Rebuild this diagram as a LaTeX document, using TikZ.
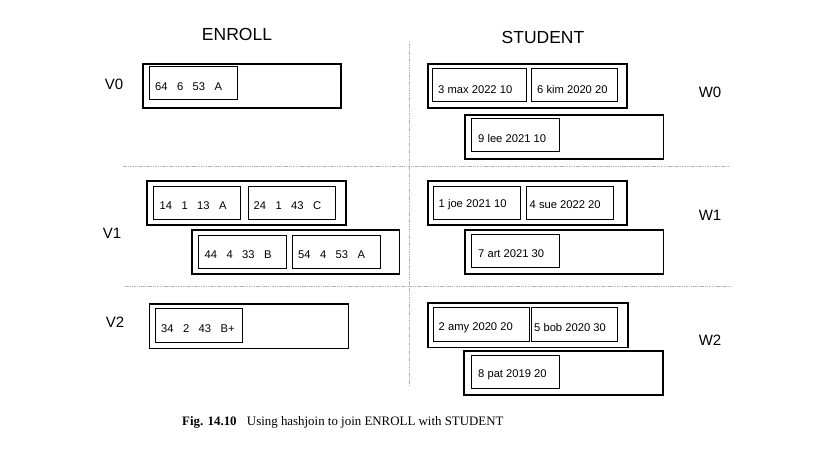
\documentclass[tikz,border=0pt]{standalone}
\usepackage{fontspec}
\setmainfont{Liberation Serif}
\setsansfont{Liberation Sans}
\begin{document}
\begin{tikzpicture}[x=1pt,y=-1pt,
  outbox/.style={draw, line width=1.8pt, minimum width=#1, minimum height=44pt, anchor=north west, inner sep=0pt},
  inbox/.style={draw, line width=1pt, anchor=north west, inner sep=0pt, minimum height=33pt, minimum width=#1},
  rec/.style={font=\sffamily\fontsize{11.2}{13}\selectfont, anchor=west, inner sep=0pt},
  head/.style={font=\sffamily\fontsize{17.5}{20}\selectfont, inner sep=0pt},
  lab/.style={font=\sffamily\fontsize{15}{18}\selectfont, inner sep=0pt},
  sep/.style={draw=gray!60, line width=0.6pt, dash pattern=on 1.5pt off 0.8pt}]
\newcommand\gp{\hspace{0.84em}}
\useasboundingbox (0,0) rectangle (838,462);
% headers
\node[head] (hE) at (237,34) {ENROLL};
\node[head] (hS) at (543,37) {STUDENT};
% separators
\coordinate (h1a) at (123,166); \coordinate (h1b) at (730,166);
\coordinate (h2a) at (125,286); \coordinate (h2b) at (730,286);
\coordinate (va) at (409.5,42); \coordinate (vb) at (409.5,385);
\draw[sep] (h1a) -- (h1b);
\draw[sep] (h2a) -- (h2b);
\draw[sep] (va) -- (vb);
% labels
\node[lab] (V0) at (114,84) {V0};
\node[lab] (V1) at (112,233) {V1};
\node[lab] (V2) at (115,322) {V2};
\node[lab] (W0) at (710,92) {W0};
\node[lab] (W1) at (710,215) {W1};
\node[lab] (W2) at (710,340) {W2};
% ENROLL V0
\node[outbox=198pt] (ev0) at (142,63.5) {};
\node[inbox=88pt] (e64) at (148.5,66) {};
\node[rec] (t64) at ([xshift=6.5pt,yshift=-4pt]e64.west) {64\gp 6\gp 53\gp A};
% ENROLL V1
\node[outbox=199pt] (ev1a) at (146,180) {};
\node[inbox=87pt] (e14) at (152.5,186.5) {};
\node[rec] (t14) at ([xshift=7pt,yshift=-2.5pt]e14.west) {14\gp 1\gp 13\gp A};
\node[inbox=87.5pt] (e24) at (247.5,186.5) {};
\node[rec] (t24) at ([xshift=6pt,yshift=-2.5pt]e24.west) {24\gp 1\gp 43\gp C};
\node[outbox=207.5pt] (ev1b) at (191,229.5) {};
\node[inbox=88.5pt] (e44) at (197.5,235) {};
\node[rec] (t44) at ([xshift=7pt,yshift=-3pt]e44.west) {44\gp 4\gp 33\gp B};
\node[inbox=88pt] (e54) at (292,235) {};
\node[rec] (t54) at ([xshift=6pt,yshift=-3pt]e54.west) {54\gp 4\gp 53\gp A};
% ENROLL V2
\node[outbox=199pt] (ev2) at (148.5,303.5) {};
\node[inbox=87.5pt] (e34) at (154.5,308.5) {};
\node[rec] (t34) at ([xshift=6.5pt,yshift=-3pt]e34.west) {34\gp 2\gp 43\gp B+};
% STUDENT W0
\node[outbox=199pt] (sw0a) at (427,63) {};
\node[inbox=94pt] (s3) at (432,68.5) {};
\node[rec] (t3) at ([xshift=6pt,yshift=-4pt]s3.west) {3 max 2022 10};
\node[inbox=86pt] (s6) at (531,68.5) {};
\node[rec] (t6) at ([xshift=6pt,yshift=-4pt]s6.west) {6 kim 2020 20};
\node[outbox=198.5pt] (sw0b) at (464,114.5) {};
\node[inbox=88pt] (s9) at (471,118.5) {};
\node[rec] (t9) at ([xshift=7pt,yshift=-3pt]s9.west) {9 lee 2021 10};
% STUDENT W1
\node[outbox=199pt] (sw1a) at (427,180.5) {};
\node[inbox=87.5pt] (s1) at (432.5,186) {};
\node[rec] (t1) at ([xshift=6pt,yshift=-2pt]s1.west) {1 joe 2021 10};
\node[inbox=87.5pt] (s4) at (525.5,186) {};
\node[rec] (t4) at ([xshift=4pt,yshift=-2pt]s4.west) {4 sue 2022 20};
\node[outbox=198.5pt] (sw1b) at (464,229.5) {};
\node[inbox=88pt] (s7) at (471,234) {};
\node[rec] (t7) at ([xshift=7pt,yshift=-3pt]s7.west) {7 art 2021 30};
% STUDENT W2
\node[outbox=200pt] (sw2a) at (427,302.5) {};
\node[inbox=96.5pt] (s2) at (432.5,307.5) {};
\node[rec] (t2) at ([xshift=6pt,yshift=-3pt]s2.west) {2 amy 2020 20};
\node[inbox=85.5pt] (s5) at (531,307.5) {};
\node[rec] (t5) at ([xshift=3pt,yshift=-3pt]s5.west) {5 bob 2020 30};
\node[outbox=199pt] (sw2b) at (463,350) {};
\node[inbox=88pt] (s8) at (471,354.5) {};
\node[rec] (t8) at ([xshift=7pt,yshift=-3pt]s8.west) {8 pat 2019 20};
% caption
\node[anchor=west, inner sep=0pt, font=\fontsize{12.9}{15}\selectfont] (cap) at (182,422) {\textbf{Fig. 14.10}\hspace{0.8em}Using hashjoin to join ENROLL with STUDENT};
\end{tikzpicture}
\end{document}
